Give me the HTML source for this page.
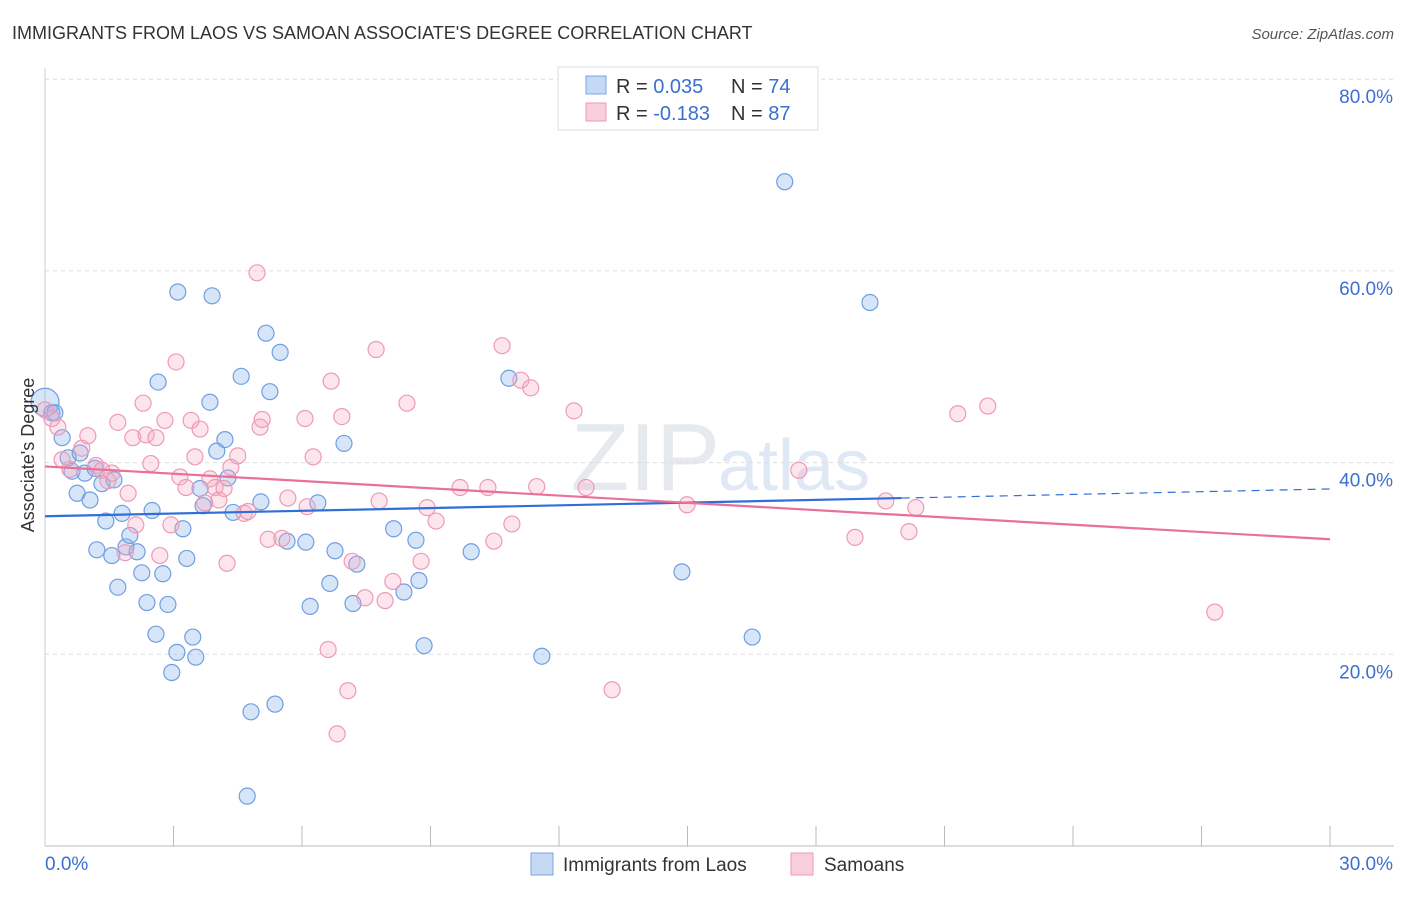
<!DOCTYPE html>
<html><head><meta charset="utf-8"><style>
body{margin:0;background:#fff;font-family:"Liberation Sans",sans-serif}
svg text{font-family:"Liberation Sans",sans-serif}
</style></head><body>
<svg id="c" width="1406" height="892">
<text x="12" y="39" font-size="18" fill="#333">IMMIGRANTS FROM LAOS VS SAMOAN ASSOCIATE'S DEGREE CORRELATION CHART</text>
<text x="1394" y="39" font-size="15" fill="#555" text-anchor="end" font-style="italic">Source: ZipAtlas.com</text>
<text x="720" y="490" font-size="96" fill="#e6e9ee" text-anchor="end" font-family="Liberation Serif">ZIP</text>
<text x="718" y="490" font-size="72" fill="#dfe8f5">atlas</text>
<g id="grid"></g><g id="pts"></g><g id="trend"></g>
<text x="34" y="455" font-size="18" fill="#333" text-anchor="middle" transform="rotate(-90 34 455)">Associate's Degree</text>
<g>
<rect x="558" y="67" width="260" height="63" fill="#fff" stroke="#ddd"/>
<rect x="586" y="76" width="20" height="18" fill="#c5d9f5" stroke="#7aa5e0"/>
<rect x="586" y="103" width="20" height="18" fill="#f9cfdc" stroke="#ee9ab5"/>
<text x="616" y="93" font-size="20" fill="#333">R = <tspan fill="#3b6fd0">0.035</tspan><tspan x="731">N = </tspan><tspan fill="#3b6fd0">74</tspan></text>
<text x="616" y="120" font-size="20" fill="#333">R = <tspan fill="#3b6fd0">-0.183</tspan><tspan x="731">N = </tspan><tspan fill="#3b6fd0">87</tspan></text>
</g>
<g>
<rect x="531" y="853" width="22" height="22" fill="#c5d9f5" stroke="#7aa5e0"/>
<text x="563" y="871" font-size="19" fill="#333">Immigrants from Laos</text>
<rect x="791" y="853" width="22" height="22" fill="#f9cfdc" stroke="#ee9ab5"/>
<text x="824" y="871" font-size="19" fill="#333">Samoans</text>
</g>
</svg>
<script>
const yTicks=[20,40,60,80];
const xTickLabels=["0.0%","30.0%"];
const blueX=[0,0.16,0.23,0.4,0.54,0.63,0.75,0.82,0.93,1.05,1.21,1.17,1.33,1.42,1.56,1.61,1.7,1.8,1.89,1.98,2.15,2.26,2.38,2.5,2.59,2.64,2.75,2.87,2.96,3.1,3.08,3.22,3.31,3.45,3.52,3.62,3.69,3.85,3.9,4.01,4.2,4.27,4.39,4.58,4.81,4.72,5.04,5.16,5.25,5.37,5.49,5.65,6.09,6.19,6.37,6.65,6.77,6.98,7.19,7.28,8.14,8.38,8.66,8.73,8.85,9.95,10.83,11.6,14.87,16.51,17.27,19.26];
const blueY=[46.3,45.2,45.2,42.6,40.5,39.1,36.8,41,38.9,36.1,30.9,39.4,37.8,33.9,30.3,38.2,27,34.7,31.2,32.4,30.7,28.5,25.4,35,22.1,48.4,28.4,25.2,18.1,57.8,20.2,33.1,30,21.8,19.7,37.3,35.5,46.3,57.4,41.2,42.4,38.4,34.8,49,14,5.2,35.9,53.5,47.4,14.8,51.5,31.8,31.7,25,35.8,27.4,30.8,42,25.3,29.4,33.1,26.5,31.9,27.7,20.9,30.7,48.8,19.8,28.6,21.8,69.3,56.7];
const pinkX=[0,0.16,0.3,0.4,0.58,0.86,1,1.19,1.33,1.47,1.56,1.7,1.87,1.94,2.05,2.12,2.29,2.36,2.47,2.59,2.68,2.8,2.94,3.06,3.15,3.29,3.41,3.5,3.62,3.73,3.85,3.97,4.06,4.18,4.25,4.34,4.5,4.65,4.74,4.95,5.02,5.07,5.21,5.53,5.67,6.07,6.12,6.26,6.61,6.68,6.82,6.93,7.07,7.17,7.47,7.73,7.8,7.94,8.12,8.45,8.78,8.92,9.13,9.69,10.34,10.48,10.67,10.9,11.11,11.34,11.48,12.35,12.63,13.24,14.99,17.6,18.91,19.63,20.17,20.33,21.31,22.01,27.31];
const pinkY=[45.5,44.6,43.7,40.3,39.3,41.5,42.8,39.7,39.2,38.1,38.9,44.2,30.6,36.8,42.6,33.5,46.2,42.9,39.9,42.6,30.3,44.4,33.5,50.5,38.5,37.4,44.4,40.6,43.5,35.8,38.3,37.4,36.1,37.3,29.5,39.5,40.7,34.7,34.9,59.8,43.7,44.5,32,32.1,36.3,44.6,35.4,40.6,20.5,48.5,11.7,44.8,16.2,29.7,25.9,51.8,36,25.6,27.6,46.2,29.7,35.3,33.9,37.4,37.4,31.8,52.2,33.6,48.6,47.8,37.5,45.4,37.4,16.3,35.6,39.2,32.2,36,32.8,35.3,45.1,45.9,24.4];
const blueTrend=[34.4,37.25], pinkTrend=[39.6,32.0];
const X=v=>45+v/30*1285, Y=v=>846-v/20*191.7;
const NS="http://www.w3.org/2000/svg";
function mk(t,a,p){const e=document.createElementNS(NS,t);for(const k in a)e.setAttribute(k,a[k]);p.appendChild(e);return e;}
const g=document.getElementById('grid');
yTicks.forEach(t=>{
 const l=mk('line',{x1:45,x2:1394,y1:Y(t),y2:Y(t),stroke:'#ddd','stroke-dasharray':'4,4'},g);
 
 
 const tx=mk('text',{x:1393,y:Y(t)+24,'font-size':19,fill:'#3b6fd0','text-anchor':'end'},g);tx.textContent=t.toFixed(1)+'%';
 
 
});
const ax=mk('line',{x1:45,x2:1394,y1:846,y2:846,stroke:'#bbb'},g);


mk('line',{x1:45,x2:45,y1:68,y2:846,stroke:'#ccc'},g);
for(let i=1;i<=10;i++){const x=X(i*3);mk('line',{x1:x,x2:x,y1:826,y2:846,stroke:'#bbb'},g);}
xTickLabels.forEach((s,i)=>{const t=mk('text',{x:i?1393:45,y:870,'font-size':19,fill:'#3b6fd0','text-anchor':i?'end':'start'},g);t.textContent=s;
 
 });
const p=document.getElementById('pts');
blueX.forEach((x,i)=>{const c=mk('circle',{cx:X(x),cy:Y(blueY[i]),r:i?8:14,fill:'rgba(140,180,235,0.35)',stroke:'#6f9fe0','stroke-width':1.2},p);
 
 });
pinkX.forEach((x,i)=>{const c=mk('circle',{cx:X(x),cy:Y(pinkY[i]),r:8,fill:'rgba(245,170,195,0.3)',stroke:'#ee9ab5','stroke-width':1.2},p);
 
 });
const tr=document.getElementById('trend');
const bAt=x=>blueTrend[0]+(blueTrend[1]-blueTrend[0])*x/30;
let l1=mk('line',{x1:X(0),y1:Y(bAt(0)),x2:X(20),y2:Y(bAt(20)),stroke:'#2f6fd6','stroke-width':2.2},tr);


let l2=mk('line',{x1:X(20),y1:Y(bAt(20)),x2:X(30),y2:Y(bAt(30)),stroke:'#2f6fd6','stroke-width':1.2,'stroke-dasharray':'8,6'},tr);


let l3=mk('line',{x1:X(0),y1:Y(pinkTrend[0]),x2:X(30),y2:Y(pinkTrend[1]),stroke:'#e8709a','stroke-width':2.2},tr);


</script>
</body></html>
